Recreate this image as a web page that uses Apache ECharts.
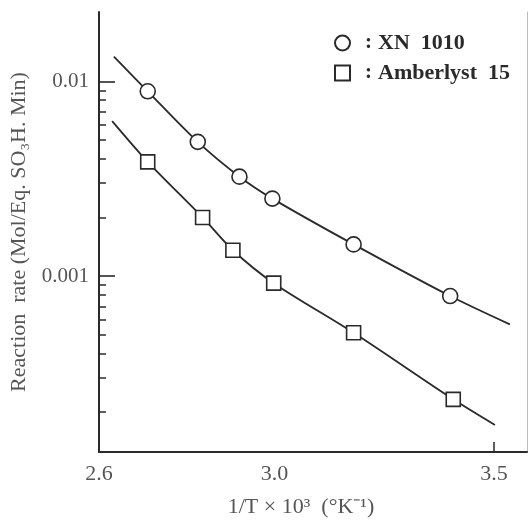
<!DOCTYPE html>
<html>
<head>
<meta charset="utf-8">
<script src="https://cdn.jsdelivr.net/npm/echarts@6/dist/echarts.min.js"></script>
<style>
  html, body { margin: 0; padding: 0; background: #fff; }
  #chart { width: 528px; height: 523px; }
</style>
</head>
<body>
<div id="chart"></div>
<script>
// XN 1010 (circles)
var xnX = [2.711, 2.825, 2.920, 2.995, 3.180, 3.400];
var xnY = [0.00889, 0.00489, 0.00324, 0.00250, 0.001455, 0.00079];
// Amberlyst 15 (squares)
var amX = [2.711, 2.836, 2.905, 2.998, 3.180, 3.407];
var amY = [0.00386, 0.00200, 0.001358, 0.00092, 0.000512, 0.000233];
// ends of the drawn curves
var xnCurveStart = [2.634, 0.0134];
var xnCurveEnd = [3.536, 0.000565];
var amCurveStart = [2.630, 0.00625];
var amCurveEnd = [3.502, 0.000172];

var seriesNames = ['XN 1010', 'Amberlyst 15'];
var xLabelValues = [2.6, 3.0, 3.5];
var xTickValues = [3.5];
var yMajorTicks = [0.001, 0.01];
var yMajorLabels = ['0.001', '0.01'];
var yMinorTicks = [0.0002, 0.0003, 0.0004, 0.0005, 0.0006, 0.0007, 0.0008, 0.0009,
                   0.002, 0.003, 0.004, 0.005, 0.006, 0.007, 0.008, 0.009];
var xMin = 2.6, xMax = 3.575;
var yMin = 0.000125, yMax = 0.0227;

var serif = 'Liberation Serif';
var ink = '#2a2a2a';
var grey = '#555';

function pairs(xs, ys) {
  return xs.map(function (x, i) { return [x, ys[i]]; });
}
function curve(start, xs, ys, end) {
  return [start].concat(pairs(xs, ys), [end]);
}

var myChart = echarts.init(document.getElementById('chart'));
var lgMin = Math.log10(yMin), lgMax = Math.log10(yMax);

var option = {
  animation: false,
  backgroundColor: '#fff',
  grid: { left: 98, right: 1, top: 12, bottom: 68 },
  legend: {
    orient: 'vertical',
    left: 329,
    top: 27,
    itemWidth: 15,
    itemHeight: 15,
    itemGap: 8,
    data: seriesNames,
    formatter: function (name) {
      return '{c|:}{t|' + name.replace(' ', '  ') + '}';
    },
    textStyle: {
      rich: {
        c: { fontFamily: serif, fontSize: 21, fontWeight: 'bold', color: ink, padding: [0, 6, 0, 10] },
        t: { fontFamily: serif, fontSize: 22, fontWeight: 'bold', color: ink }
      }
    }
  },
  xAxis: {
    type: 'value',
    min: xMin,
    max: xMax,
    name: '1/T × 10³  (°K⁻¹)',
    nameLocation: 'middle',
    nameGap: 44,
    nameTextStyle: { fontFamily: serif, fontSize: 22, color: grey, padding: [0, 24, 0, 0] },
    axisLine: { lineStyle: { color: ink, width: 2 } },
    axisTick: { inside: true, length: 10, customValues: xTickValues, lineStyle: { color: ink, width: 1.5 } },
    axisLabel: {
      customValues: xLabelValues,
      margin: 11,
      fontFamily: serif,
      fontSize: 22,
      color: grey,
      formatter: function (v) { return v.toFixed(1); }
    },
    splitLine: { show: false }
  },
  yAxis: [
    {
      // data axis (log scale), drawn by the overlay axes below
      type: 'log',
      logBase: 10,
      min: yMin,
      max: yMax,
      show: false
    },
    {
      // major ticks + labels (log10 space)
      type: 'value',
      position: 'left',
      min: lgMin,
      max: lgMax,
      name: 'Reaction  rate (Mol/Eq. SO₃H. Min)',
      nameLocation: 'middle',
      nameGap: 69,
      nameTextStyle: { fontFamily: serif, fontSize: 22, color: grey },
      axisLine: { show: true, lineStyle: { color: ink, width: 2 } },
      axisTick: {
        show: true, inside: true, length: 16,
        customValues: yMajorTicks.map(Math.log10),
        lineStyle: { color: ink, width: 1.6 }
      },
      axisLabel: {
        customValues: yMajorTicks.map(Math.log10),
        margin: 10,
        fontFamily: serif,
        fontSize: 21,
        color: grey,
        formatter: function (v) {
          for (var i = 0; i < yMajorTicks.length; i++) {
            if (Math.abs(Math.log10(yMajorTicks[i]) - v) < 1e-6) return yMajorLabels[i];
          }
          return '';
        }
      },
      splitLine: { show: false }
    },
    {
      // minor ticks
      type: 'value',
      position: 'left',
      min: lgMin,
      max: lgMax,
      axisLine: { show: false },
      axisTick: {
        show: true, inside: true, length: 7,
        customValues: yMinorTicks.map(Math.log10),
        lineStyle: { color: ink, width: 1.5 }
      },
      axisLabel: { show: false },
      splitLine: { show: false }
    },
    {
      // right frame edge
      type: 'value',
      position: 'right',
      min: lgMin,
      max: lgMax,
      axisLine: { show: true, lineStyle: { color: '#bbb', width: 1 } },
      axisTick: { show: false },
      axisLabel: { show: false },
      splitLine: { show: false }
    }
  ],
  series: [
    {
      name: 'XN 1010 curve',
      type: 'line',
      yAxisIndex: 0,
      smooth: 0.3,
      showSymbol: false,
      silent: true,
      z: 2,
      lineStyle: { color: ink, width: 1.8 },
      data: curve(xnCurveStart, xnX, xnY, xnCurveEnd)
    },
    {
      name: 'Amberlyst 15 curve',
      type: 'line',
      yAxisIndex: 0,
      smooth: 0.3,
      showSymbol: false,
      silent: true,
      z: 2,
      lineStyle: { color: ink, width: 1.8 },
      data: curve(amCurveStart, amX, amY, amCurveEnd)
    },
    {
      name: seriesNames[0],
      type: 'scatter',
      yAxisIndex: 0,
      symbol: 'circle',
      symbolSize: 15,
      z: 3,
      itemStyle: { color: '#fff', borderColor: ink, borderWidth: 1.6, opacity: 1 },
      data: pairs(xnX, xnY)
    },
    {
      name: seriesNames[1],
      type: 'scatter',
      yAxisIndex: 0,
      symbol: 'rect',
      symbolSize: 14,
      z: 3,
      itemStyle: { color: '#fff', borderColor: ink, borderWidth: 1.6, opacity: 1 },
      data: pairs(amX, amY)
    }
  ]
};

myChart.setOption(option);
</script>
</body>
</html>
